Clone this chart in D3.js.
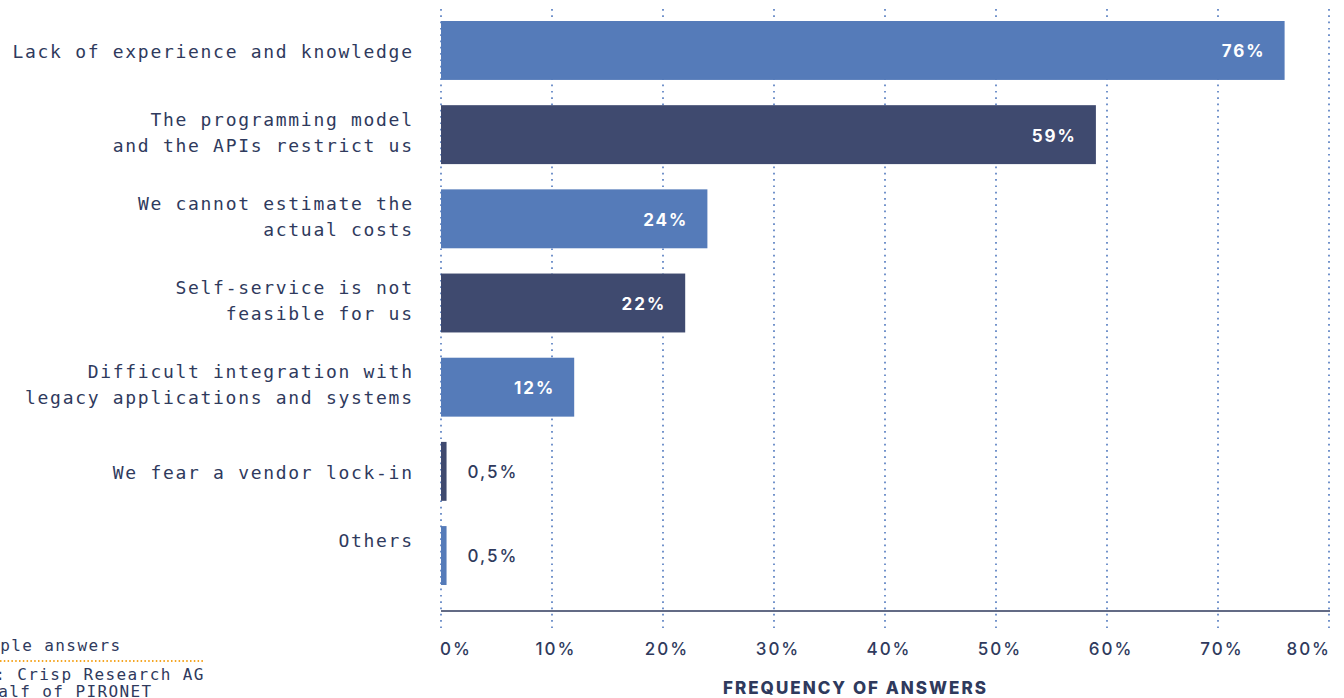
<!DOCTYPE html>
<html><head><meta charset="utf-8">
<script src="https://cdn.jsdelivr.net/npm/d3@7"></script>
<style>
html,body{margin:0;padding:0;background:#fff;overflow:hidden}
svg{display:block}
</style></head>
<body>
<svg id="chart" width="1344" height="698"></svg>
<script>
// ---- data ----
const categories = [
  "Lack of experience and knowledge",
  "The programming model\nand the APIs restrict us",
  "We cannot estimate the\nactual costs",
  "Self-service is not\nfeasible for us",
  "Difficult integration with\nlegacy applications and systems",
  "We fear a vendor lock-in",
  "Others\n"
];
const values = [76, 59, 24, 22, 12, 0.5, 0.5];
const valueLabels = ["76%", "59%", "24%", "22%", "12%", "0,5%", "0,5%"];
const tickValues = [0, 10, 20, 30, 40, 50, 60, 70, 80];
const tickLabels = ["0%", "10%", "20%", "30%", "40%", "50%", "60%", "70%", "80%"];
const axisTitle = "FREQUENCY OF ANSWERS";
const notes = ["Multiple answers", "Source: Crisp Research AG", "on behalf of PIRONET"];

// ---- styles ----
const light = "#557bb9", dark = "#3f4a6f", ink = "#2f3a5d", grid = "#5b80c2", orange = "#f5a623";
const mono = "'DejaVu Sans Mono', 'Liberation Mono', monospace";
const sans = "Inter, 'Noto Sans', sans-serif";

const svg = d3.select("#chart");
const x = d3.scaleLinear().domain([0, 80]).range([441, 1329]);
const y = d3.scaleBand().domain(d3.range(categories.length)).range([21, 585]).paddingInner(0.3).paddingOuter(0);

// gridlines
svg.append("g").selectAll("line").data(tickValues).join("line")
  .attr("x1", d => x(d)).attr("x2", d => x(d))
  .attr("y1", 9).attr("y2", 628)
  .attr("stroke", grid).attr("stroke-width", 1.7)
  .attr("stroke-dasharray", "1.7 4.6");

// bars
svg.append("g").selectAll("rect").data(values).join("rect")
  .attr("x", x(0)).attr("y", (d, i) => y(i))
  .attr("width", d => x(d) - x(0)).attr("height", y.bandwidth())
  .attr("fill", (d, i) => i % 2 === 0 ? light : dark);

// axis line
svg.append("line").attr("x1", x(0)).attr("x2", x(80) + 1).attr("y1", 611).attr("y2", 611)
  .attr("stroke", ink).attr("stroke-width", 1.5);

// category labels
const catLS = 1.7;
const cat = svg.append("g").attr("font-family", mono).attr("font-size", 18)
  .attr("fill", ink).attr("letter-spacing", catLS).attr("text-anchor", "end");
categories.forEach((c, i) => {
  const lines = c.split("\n");
  const lh = 26;
  const cy = y(i) + y.bandwidth() / 2 + (lines.length === 1 ? 1 : -2);
  const t = cat.append("text");
  lines.forEach((ln, k) => {
    t.append("tspan").attr("x", x(0) - 29 + catLS)
      .attr("y", cy + (k - (lines.length - 1) / 2) * lh)
      .attr("dy", "0.35em").text(ln);
  });
});

// value labels
svg.append("g").selectAll("text").data(values).join("text")
  .attr("x", d => d >= 5 ? x(d) - 21 + 2 : x(d) + 21)
  .attr("y", (d, i) => y(i) + y.bandwidth() / 2 + 1)
  .attr("dy", "0.35em")
  .attr("text-anchor", d => d >= 5 ? "end" : "start")
  .attr("font-family", sans).attr("font-size", 17)
  .attr("font-weight", d => d >= 5 ? 700 : 500)
  .attr("letter-spacing", 2)
  .attr("fill", d => d >= 5 ? "#fff" : ink)
  .text((d, i) => valueLabels[i]);

// tick labels
svg.append("g").selectAll("text").data(tickValues).join("text")
  .attr("x", (d, i) => i === 0 ? x(d) - 1 : i === tickValues.length - 1 ? x(d) + 2 : x(d) + 4)
  .attr("y", 655)
  .attr("text-anchor", (d, i) => i === 0 ? "start" : i === tickValues.length - 1 ? "end" : "middle")
  .attr("font-family", sans).attr("font-size", 17).attr("font-weight", 500).attr("letter-spacing", 2)
  .attr("fill", ink)
  .text((d, i) => tickLabels[i]);

// axis title
svg.append("text").attr("x", 723).attr("y", 694)
  .attr("font-family", sans).attr("font-size", 17).attr("font-weight", 800)
  .attr("fill", ink).attr("textLength", 263).attr("lengthAdjust", "spacing")
  .text(axisTitle);

// notes (partially cut at left edge, as in the original)
const nt = svg.append("g").attr("font-family", mono).attr("font-size", 16)
  .attr("fill", ink).attr("letter-spacing", 1.4);
nt.append("text").attr("x", -55).attr("y", 651).text(notes[0]);
svg.append("line").attr("x1", 0).attr("x2", 204).attr("y1", 661).attr("y2", 661)
  .attr("stroke", orange).attr("stroke-width", 2).attr("stroke-dasharray", "1.5 2.3");
nt.append("text").attr("x", -71).attr("y", 680).text(notes[1]);
nt.append("text").attr("x", -68).attr("y", 697).text(notes[2]);
</script>
</body></html>
